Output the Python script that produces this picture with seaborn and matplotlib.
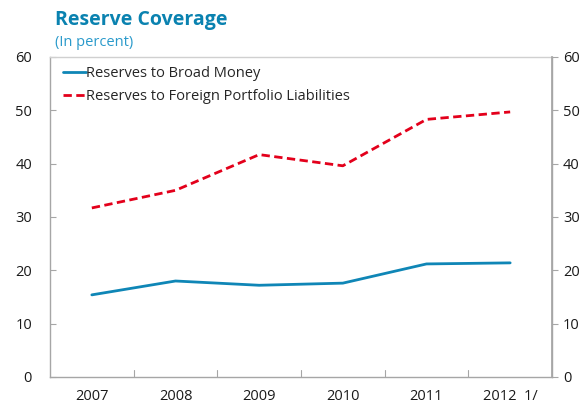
import matplotlib
matplotlib.use("Agg")
import matplotlib.pyplot as plt
import seaborn as sns
import pandas as pd
from matplotlib.lines import Line2D

years = ["2007", "2008", "2009", "2010", "2011", "2012  1/"]
broad_money = [15.4, 18.0, 17.2, 17.6, 21.2, 21.4]
portfolio_liab = [31.7, 35.0, 41.7, 39.6, 48.3, 49.7]
yticks = [0, 10, 20, 30, 40, 50, 60]

sns.set_theme(style="white")
plt.rcParams["font.family"] = ["Open Sans", "DejaVu Sans"]

blue = "#0f86b6"
red = "#e3001b"
grey = "#a6a6a6"
text_col = "#1a1a1a"

df = pd.DataFrame({
    "year": years * 2,
    "value": broad_money + portfolio_liab,
    "series": ["Reserves to Broad Money"] * len(years)
              + ["Reserves to Foreign Portfolio Liabilities"] * len(years),
})
df["x"] = list(range(len(years))) * 2

fig = plt.figure(figsize=(5.82, 4.08), dpi=100)
ax = fig.add_axes([50 / 582, 31 / 408, 502 / 582, 320 / 408])

sns.lineplot(data=df, x="x", y="value", hue="series", style="series",
             palette=[blue, red], dashes=[(None, None), (3, 1.6)],
             linewidth=2.0, ax=ax, legend=False)

ax.set_xlim(-0.5, len(years) - 0.5)
ax.set_ylim(0, 60)
ax.set_yticks(yticks)
ax.set_yticklabels([str(t) for t in yticks], fontsize=10.5, color=text_col)
ax.set_xticks(range(len(years)))
ax.set_xticklabels(years, fontsize=10.5, color=text_col)
ax.tick_params(axis="x", length=0, pad=9)
ax.tick_params(axis="y", direction="in", length=4, color=grey, pad=13, width=0.8)
for b in [i + 0.5 for i in range(len(years) - 1)]:
    ax.plot([b, b], [0, 1.3], color=grey, lw=0.8, clip_on=False)
ax.set_xlabel("")
ax.set_ylabel("")

for s in ax.spines.values():
    s.set_color(grey)
    s.set_linewidth(1.0)
    s.set_visible(True)
ax.spines["top"].set_color("#d0d0d0")

ax2 = ax.twinx()
ax2.set_ylim(0, 60)
ax2.set_yticks(yticks)
ax2.set_yticklabels([str(t) for t in yticks], fontsize=10.5, color=text_col)
ax2.tick_params(axis="y", direction="out", length=4, color=grey, pad=4, width=0.8)
for s in ax2.spines.values():
    s.set_visible(False)
ax2.spines["right"].set_visible(True)
ax2.spines["right"].set_color(grey)
ax2.grid(False)

handles = [Line2D([], [], color=blue, lw=2.0),
           Line2D([], [], color=red, lw=2.0, dashes=(3, 1.6))]
ax.legend(handles, ["Reserves to Broad Money",
                    "Reserves to Foreign Portfolio Liabilities"],
          loc="upper left", frameon=False, fontsize=10.5, handlelength=1.6,
          handletextpad=0.0, borderaxespad=0.2, labelspacing=0.55,
          bbox_to_anchor=(0.008, 1.0))

fig.text(55 / 582, 1 - 20 / 408, "Reserve Coverage", fontsize=14,
         fontweight="bold", color="#0a82b0", va="center", ha="left")
fig.text(55 / 582, 1 - 43 / 408, "(In percent)", fontsize=10.5,
         color="#2a9acb", va="center", ha="left")

fig.savefig("out.png", dpi=100)
